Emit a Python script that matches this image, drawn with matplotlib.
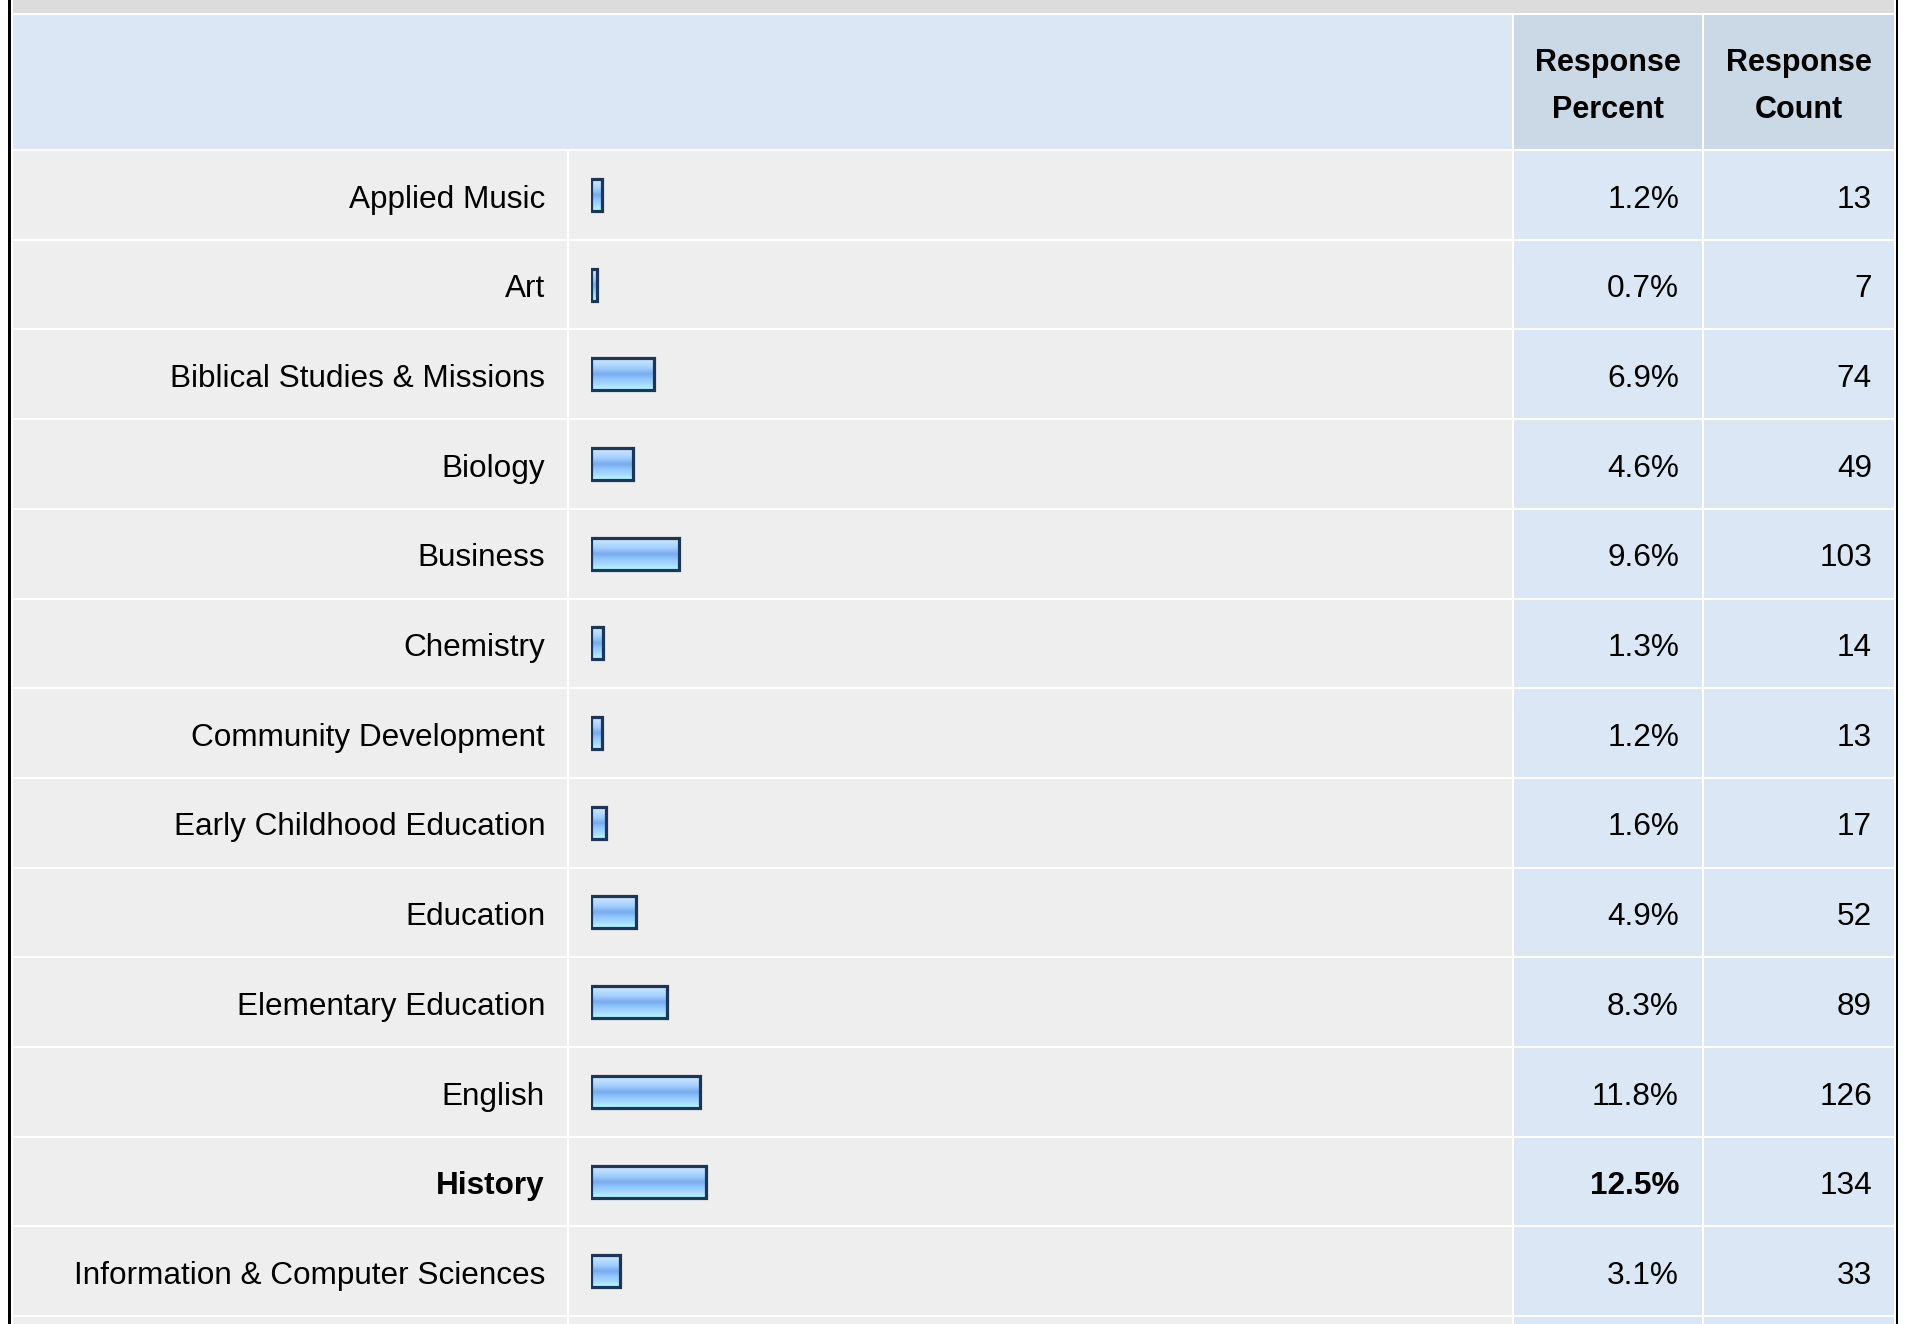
import matplotlib
matplotlib.use("Agg")
import matplotlib.pyplot as plt
import numpy as np
from matplotlib.patches import Rectangle
from matplotlib.colors import LinearSegmentedColormap

# survey answers
majors = ["Applied Music", "Art", "Biblical Studies & Missions", "Biology",
          "Business", "Chemistry", "Community Development",
          "Early Childhood Education", "Education", "Elementary Education",
          "English", "History", "Information & Computer Sciences"]
percents = [1.2, 0.7, 6.9, 4.6, 9.6, 1.3, 1.2, 1.6, 4.9, 8.3, 11.8, 12.5, 3.1]
counts = [13, 7, 74, 49, 103, 14, 13, 17, 52, 89, 126, 134, 33]
headers = [["Response", "Percent"], ["Response", "Count"]]

plt.rcParams['font.family'] = ['Liberation Sans', 'DejaVu Sans']

W, H = 1907, 1324
fig = plt.figure(figsize=(W / 100, H / 100), dpi=100)
ax = fig.add_axes([0, 0, 1, 1])
ax.set_xlim(0, W)
ax.set_ylim(H, 0)
ax.axis('off')

# column edges (pixels)
lab_x0, lab_x1 = 13, 567
bar_x0, bar_x1 = 569, 1512
pct_x0, pct_x1 = 1514, 1702
cnt_x0, cnt_x1 = 1704, 1894
row_top, pitch, gap = 151, 89.7, 2

# outer frame + top band + header
ax.add_patch(Rectangle((8, 0), 2.5, H, color='black', lw=0))
ax.add_patch(Rectangle((1895.5, 0), 2.5, H, color='black', lw=0))
ax.add_patch(Rectangle((13, 0), 1881, 13, color='#dcdcdc', lw=0))
ax.add_patch(Rectangle((13, 15), bar_x1 - 13, 134, color='#dce7f5', lw=0))
ax.add_patch(Rectangle((pct_x0, 15), pct_x1 - pct_x0, 134, color='#cbd8e6', lw=0))
ax.add_patch(Rectangle((cnt_x0, 15), cnt_x1 - cnt_x0, 134, color='#cbd8e6', lw=0))

for cx, lines in zip([(pct_x0 + pct_x1) / 2, (cnt_x0 + cnt_x1) / 2], headers):
    ax.text(cx, 71, lines[0], ha='center', va='baseline', fontsize=22, weight='bold')
    ax.text(cx, 118, lines[1], ha='center', va='baseline', fontsize=22, weight='bold')

# row backgrounds (one extra row is cut off at the bottom)
for i in range(len(majors) + 1):
    top = row_top + pitch * i
    ax.add_patch(Rectangle((lab_x0, top), lab_x1 - lab_x0, pitch - gap, color='#eeeeee', lw=0))
    ax.add_patch(Rectangle((bar_x0, top), bar_x1 - bar_x0, pitch - gap, color='#eeeeee', lw=0))
    ax.add_patch(Rectangle((pct_x0, top), pct_x1 - pct_x0, pitch - gap, color='#dce7f5', lw=0))
    ax.add_patch(Rectangle((cnt_x0, top), cnt_x1 - cnt_x0, pitch - gap, color='#dce7f5', lw=0))

centers = [row_top + (pitch - gap) / 2 + pitch * i for i in range(len(majors))]
top_pct = max(percents)

for name, p, n, yc in zip(majors, percents, counts, centers):
    w = 'bold' if p == top_pct else 'normal'
    ax.text(545, yc + 12.7, name, ha='right', va='baseline', fontsize=22.7, weight=w)
    ax.text(1679, yc + 12.7, f"{p:.1f}%", ha='right', va='baseline', fontsize=22.7, weight=w)
    ax.text(1872, yc + 12.7, str(n), ha='right', va='baseline', fontsize=22.7)

# bars: own axes, x in percent
px_per_pct = 9.2
bx_left = 591
bx = fig.add_axes([bx_left / W, 0, (bar_x1 - bx_left) / W, 1])
bx.patch.set_visible(False)
bx.axis('off')

cmap = LinearSegmentedColormap.from_list(
    'bar', [(0.0, '#d2e8ff'), (0.3, '#a2d0ff'), (0.5, '#78aaec'),
            (0.65, '#90c6ff'), (0.85, '#aadcff'), (1.0, '#b4ffff')])
grad = np.linspace(0, 1, 64).reshape(-1, 1)
bh = 32
for p, yc in zip(percents, centers):
    bx.imshow(grad, cmap=cmap, aspect='auto', origin='upper',
              extent=(0, p, yc + bh / 2, yc - bh / 2), zorder=2, interpolation='bilinear')
bx.barh(centers, percents, height=bh, left=0, color='none',
        edgecolor='#1c3658', linewidth=2.3, zorder=3)
bx.set_xlim(0, (bar_x1 - bx_left) / px_per_pct)
bx.set_ylim(H, 0)

fig.savefig('out.png', dpi=100)
